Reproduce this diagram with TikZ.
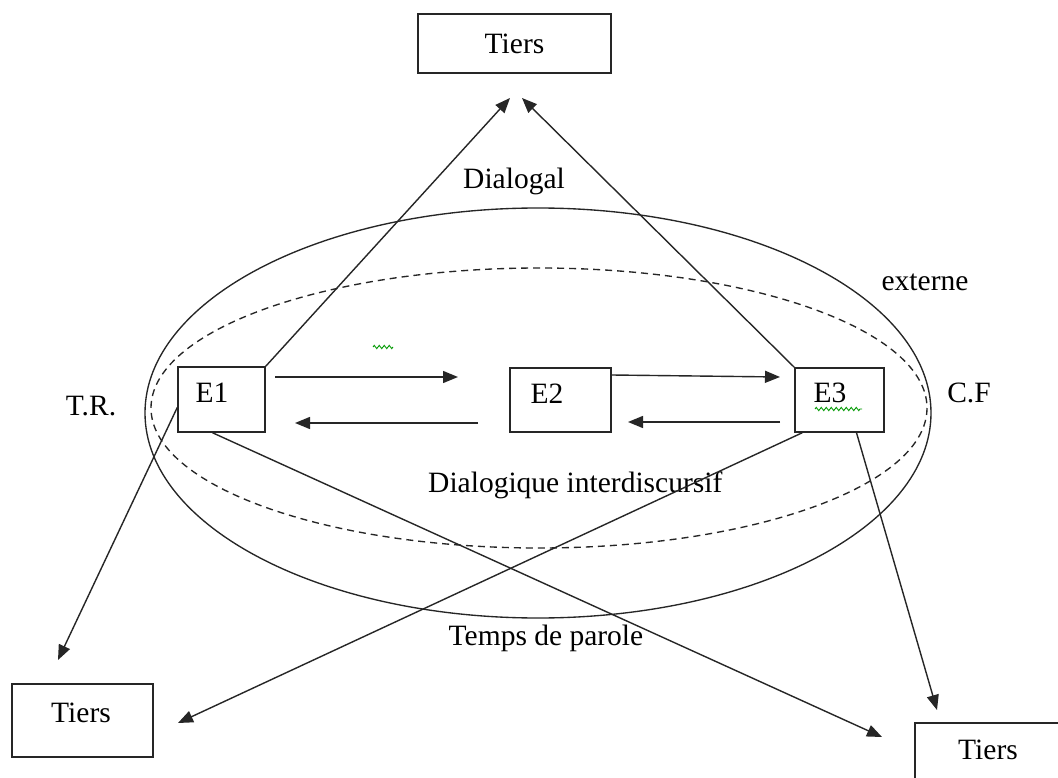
\documentclass[tikz,border=0pt]{standalone}
\usepackage{fontspec}
\setmainfont{Liberation Serif}
\usetikzlibrary{arrows.meta,decorations.pathmorphing,calc}
\begin{document}
\begin{tikzpicture}[x=1pt,y=-1pt,
  font=\fontsize{29.5}{34}\selectfont,
  box/.style={draw=black!85, line width=1.5pt, inner sep=0pt, rectangle},
  arr/.style={draw=black!85, line width=1.4pt, -{Triangle[length=15pt,width=12pt]}},
  txt/.style={inner sep=0pt},
  squig/.style={draw=green!60!black, line width=0.9pt, decorate, decoration={zigzag, segment length=5pt, amplitude=1.6pt}}]
\clip (0,0) rectangle (1058,778);
\fill[white] (0,0) rectangle (1058,778);

% ellipses
\draw[black!85, line width=1.35pt] (538,413) ellipse [x radius=393, y radius=205];
\draw[black!85, line width=1.35pt, dash pattern=on 7pt off 5pt] (539,408) ellipse [x radius=388, y radius=140];

% boxes
\node[box, minimum width=193pt, minimum height=59pt] (T0) at (514.5,43.5) {Tiers};
\node[box, minimum width=87pt, minimum height=65pt] (E1) at (221.5,399.5) {};
\node[box, minimum width=101pt, minimum height=64pt] (E2) at (560.5,400) {};
\node[box, minimum width=89pt, minimum height=64pt] (E3) at (839.5,400) {};
\node[box, minimum width=141pt, minimum height=73pt] (TL) at (82.5,720.5) {};
\node[box, minimum width=165pt, minimum height=77pt] (TR) at (997.5,761.5) {};

% box texts
\node[txt] (tE1) at (212,393) {E1};
\node[txt] (tE2) at (547,394) {E2};
\node[txt] (tE3) at (830,393) {E3};
\node[txt] (tTL) at (81,713) {Tiers};
\node[txt] (tTR) at (988,750) {Tiers};

% labels
\node[txt] (dialogal) at (514,181) {Dialogal};
\node[txt] (externe) at (925,282) {externe};
\node[txt] (cf) at (969,393) {C.F};
\node[txt] (tr) at (91,406) {T.R.};
\node[txt, anchor=west] (dialog) at (428,485) {Dialogique interdiscursif};
\node[txt] (temps) at (546,638) {Temps de parole};

% arrow end coordinates
\coordinate (a1) at (510,98);
\coordinate (a2) at (522,98);
\coordinate (b1) at (58,660);
\coordinate (b2) at (882,737);
\coordinate (b3) at (178,723);
\coordinate (b4) at (937,710);
\coordinate (h1s) at (275,377);
\coordinate (h1e) at (458,377);
\coordinate (h2s) at (478,423);
\coordinate (h2e) at (295,423);
\coordinate (h3e) at (780,377);
\coordinate (h4s) at (780,422);
\coordinate (h4e) at (628,422);

% connectors
\draw[arr] (E1.north east) -- (a1);
\draw[arr] (E3.north west) -- (a2);
\draw[arr] ($(E1.west)+(0,8)$) -- (b1);
\draw[arr] ($(E1.south)+(-9,0)$) -- (b2);
\draw[arr] ($(E3.south west)+(8,0)$) -- (b3);
\draw[arr] ($(E3.south)+(17,0)$) -- (b4);
\draw[arr] (h1s) -- (h1e);
\draw[arr] (h2s) -- (h2e);
\draw[arr] ($(E2.east)+(0,-25)$) -- (h3e);
\draw[arr] (h4s) -- (h4e);

% spell-check squiggles
\draw[squig] (373,347) -- (393,347);
\draw[squig] (815,409) -- (862,409);
\end{tikzpicture}
\end{document}
